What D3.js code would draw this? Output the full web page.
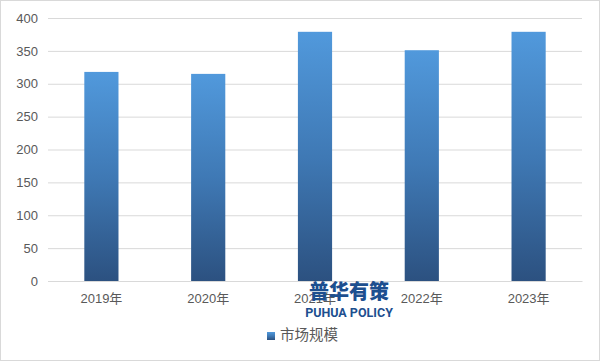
<!DOCTYPE html>
<html><head><meta charset="utf-8">
<script src="https://cdn.jsdelivr.net/npm/d3@7"></script>
<style>body{margin:0;background:#fff;}svg{display:block;}</style>
</head><body>
<svg id="c" width="600" height="361"></svg>
<script>
const categories = ["2019年","2020年","2021年","2022年","2023年"];
const values = [318, 315, 379, 351, 379];
const yTicks = [0,50,100,150,200,250,300,350,400];
const seriesName = "市场规模";

const svg = d3.select("#c");
const W = 600, H = 361;
const m = {left:48, right:18, top:18, bottom:80};
const font = "'Liberation Sans','Noto Sans CJK SC',sans-serif";

svg.append("rect").attr("x",0.5).attr("y",0.5).attr("width",W-1).attr("height",H-1)
  .attr("fill","#fff").attr("stroke","#d9d9d9");

const x = d3.scaleBand().domain(categories).range([m.left, W-m.right]).paddingInner(0.68).paddingOuter(0.34);
const y = d3.scaleLinear().domain([0,400]).range([H-m.bottom, m.top]);

const defs = svg.append("defs");
const g = defs.append("linearGradient").attr("id","bg").attr("x1",0).attr("y1",0).attr("x2",0).attr("y2",1);
g.append("stop").attr("offset","0%").attr("stop-color","#5199dc");
g.append("stop").attr("offset","50%").attr("stop-color","#3f79b5");
g.append("stop").attr("offset","100%").attr("stop-color","#2c5180");

// gridlines
const yAxis = d3.axisLeft(y).tickValues(yTicks).tickSize(-(W-m.left-m.right)).tickPadding(10);
const ya = svg.append("g").attr("transform",`translate(${m.left},0)`).call(yAxis);
ya.select(".domain").remove();
ya.selectAll(".tick line").attr("stroke","#d9d9d9");
ya.selectAll(".tick text").attr("fill","#595959").style("font-family",font).style("font-size","13px");

// bars
svg.append("g").selectAll("rect").data(values).join("rect")
  .attr("x",(d,i)=>x(categories[i]))
  .attr("width",x.bandwidth())
  .attr("y",d=>y(d))
  .attr("height",d=>y(0)-y(d))
  .attr("fill","url(#bg)");

// x axis
const xAxis = d3.axisBottom(x).tickSize(0).tickPadding(13);
const xa = svg.append("g").attr("transform",`translate(0,${y(0)})`).call(xAxis);
xa.select(".domain").attr("stroke","#d9d9d9");
xa.selectAll(".tick text").attr("fill","#595959").style("font-family",font).style("font-size","13px");

// watermark
svg.append("text").attr("x",349).attr("y",299).attr("text-anchor","middle")
  .style("font-family","'Noto Sans CJK SC',sans-serif").style("font-weight","900").style("font-size","20px")
  .attr("fill","#1d4f8f").text("普华有策");
svg.append("text").attr("x",349).attr("y",317).attr("text-anchor","middle")
  .style("font-family","'Liberation Sans Narrow','Roboto',sans-serif").style("font-weight","bold").style("font-size","12.5px")
  .attr("fill","#1d4f8f").text("PUHUA POLICY");

// legend
svg.append("rect").attr("x",267).attr("y",332).attr("width",8).attr("height",8).attr("fill","url(#bg)");
svg.append("text").attr("x",280).attr("y",340).attr("fill","#595959")
  .style("font-family","'Noto Sans CJK SC',sans-serif").style("font-size","14.5px").text(seriesName);
</script>
</body></html>
